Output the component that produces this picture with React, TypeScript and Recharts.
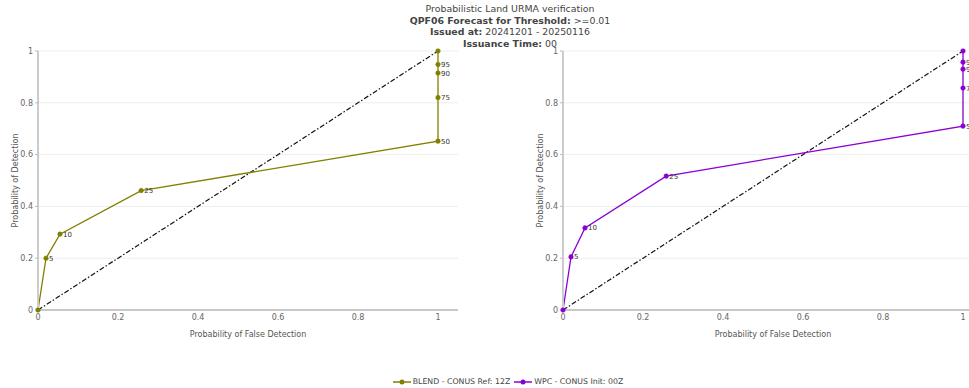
import React from 'react';
import { LineChart, Line, XAxis, YAxis, CartesianGrid, ReferenceLine, LabelList } from 'recharts';

// POFD / POD pairs per probability threshold (%)
const thresholds = ['', '5', '10', '25', '50', '75', '90', '95', ''];
const blendPofd = [0, 0.02, 0.055, 0.258, 1, 1, 1, 1, 1];
const blendPod = [0, 0.2, 0.293, 0.461, 0.652, 0.82, 0.915, 0.948, 1];
const wpcPofd = [0, 0.02, 0.055, 0.258, 1, 1, 1, 1, 1];
const wpcPod = [0, 0.205, 0.317, 0.517, 0.71, 0.857, 0.93, 0.957, 1];
const xTicks = [0, 0.2, 0.4, 0.6, 0.8, 1];
const yTicks = [0, 0.2, 0.4, 0.6, 0.8, 1];

const BLEND_COLOR = '#808000';
const WPC_COLOR = '#8a00d4';
const FONT = 'Verdana, "DejaVu Sans", sans-serif';

const toRows = (xs: number[], ys: number[]) =>
  xs.map((x, i) => ({ pofd: x, pod: ys[i], label: thresholds[i] }));

const tickStyle = { fontSize: 8, fill: '#666', fontFamily: FONT };

interface RocProps {
  rows: { pofd: number; pod: number; label: string }[];
  color: string;
  name: string;
  left: number;
}

const RocChart: React.FC<RocProps> = ({ rows, color, name, left }) => (
  <div style={{ position: 'absolute', left, top: 0 }}>
    <LineChart width={484} height={388} data={rows} margin={{ top: 51, right: 26, bottom: 48, left: 8 }}>
      <CartesianGrid vertical={false} stroke="#eeeeee" />
      <XAxis
        type="number"
        dataKey="pofd"
        domain={[0, 1.05]}
        ticks={xTicks}
        tick={tickStyle}
        tickLine={false}
        tickSize={2}
        tickMargin={2}
        axisLine={{ stroke: '#999' }}
        height={30}
        label={{ value: 'Probability of False Detection', position: 'insideBottom', offset: 3, style: { fontSize: 8, fill: '#555', fontFamily: FONT } }}
      />
      <YAxis
        type="number"
        domain={[0, 1]}
        ticks={yTicks}
        tick={tickStyle}
        tickSize={3}
        tickLine={{ stroke: '#bbb' }}
        axisLine={{ stroke: '#ccc', strokeWidth: 2 }}
        width={30}
        label={{ value: 'Probability of Detection', angle: -90, position: 'insideLeft', offset: 7, style: { fontSize: 8, fill: '#555', fontFamily: FONT, textAnchor: 'middle' } }}
      />
      <ReferenceLine
        segment={[{ x: 0, y: 0 }, { x: 1, y: 1 }]}
        stroke="#111"
        strokeWidth={1.2}
        strokeDasharray="5 2 1.5 2"
        ifOverflow="visible"
      />
      <Line
        type="linear"
        dataKey="pod"
        name={name}
        stroke={color}
        strokeWidth={1.3}
        dot={{ r: 2.3, fill: color, stroke: color, strokeWidth: 0.5 }}
        isAnimationActive={false}
      >
        <LabelList dataKey="label" position="right" offset={3} style={{ fontSize: 7, fill: '#333', fontFamily: FONT }} />
      </Line>
    </LineChart>
  </div>
);

const LegendItem: React.FC<{ color: string; text: string }> = ({ color, text }) => (
  <span style={{ display: 'inline-flex', alignItems: 'center', marginRight: 4 }}>
    <svg width={18} height={8} style={{ marginRight: 2 }}>
      <line x1={0} y1={4} x2={18} y2={4} stroke={color} strokeWidth={1.5} />
      <circle cx={9} cy={4} r={2.5} fill={color} />
    </svg>
    {text}
  </span>
);

export default function App() {
  return (
    <div style={{ position: 'absolute', left: 0, top: 0, width: 969, height: 388, overflow: 'hidden', background: '#fff', fontFamily: FONT }}>
      <RocChart rows={toRows(blendPofd, blendPod)} color={BLEND_COLOR} name="BLEND - CONUS Ref: 12Z" left={0} />
      <RocChart rows={toRows(wpcPofd, wpcPod)} color={WPC_COLOR} name="WPC - CONUS Init: 00Z" left={525} />
      <div style={{ position: 'absolute', left: 50, top: 3, width: 920, textAlign: 'center', fontSize: 9.4, lineHeight: '11.5px', color: '#444' }}>
        <div>Probabilistic Land URMA verification</div>
        <div><b>QPF06 Forecast for Threshold:</b> &gt;=0.01</div>
        <div><b>Issued at:</b> 20241201 - 20250116</div>
        <div><b>Issuance Time:</b> 00</div>
      </div>
      <div style={{ position: 'absolute', left: 50, top: 377, width: 920, display: 'flex', justifyContent: 'center', fontSize: 7.8, color: '#444' }}>
        <LegendItem color={BLEND_COLOR} text="BLEND - CONUS Ref: 12Z" />
        <LegendItem color={WPC_COLOR} text="WPC - CONUS Init: 00Z" />
      </div>
    </div>
  );
}
